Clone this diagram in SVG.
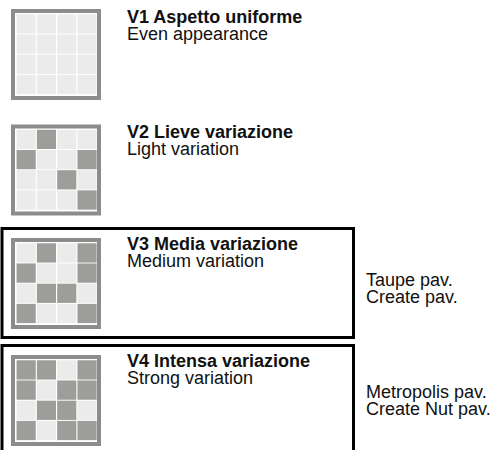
<svg xmlns="http://www.w3.org/2000/svg" xmlns:xlink="http://www.w3.org/1999/xlink" width="497" height="450" viewBox="0 0 497 450">
<style>
.t{font-family:"Liberation Sans",Arial,Helvetica,sans-serif;font-size:18px;fill:#111}
.b{font-weight:bold}
.box{fill:none;stroke:#000;stroke-width:3}
.lt{fill:#ebebeb}
.dk{fill:#9d9d99}
</style>
<defs>
<g id="base">
<rect x="0" y="0" width="90" height="91" fill="#8c8c8c"/>
<rect x="4" y="4" width="82" height="83" fill="#ffffff"/>
<g class="lt">
<rect x="5.6" y="5.3" width="19.1" height="19.2"/><rect x="25.9" y="5.3" width="19.1" height="19.2"/><rect x="46.2" y="5.3" width="19.1" height="19.2"/><rect x="66.5" y="5.3" width="19.1" height="19.2"/>
<rect x="5.6" y="25.5" width="19.1" height="19.2"/><rect x="25.9" y="25.5" width="19.1" height="19.2"/><rect x="46.2" y="25.5" width="19.1" height="19.2"/><rect x="66.5" y="25.5" width="19.1" height="19.2"/>
<rect x="5.6" y="45.7" width="19.1" height="19.2"/><rect x="25.9" y="45.7" width="19.1" height="19.2"/><rect x="46.2" y="45.7" width="19.1" height="19.2"/><rect x="66.5" y="45.7" width="19.1" height="19.2"/>
<rect x="5.6" y="65.9" width="19.1" height="19.2"/><rect x="25.9" y="65.9" width="19.1" height="19.2"/><rect x="46.2" y="65.9" width="19.1" height="19.2"/><rect x="66.5" y="65.9" width="19.1" height="19.2"/>
</g>
</g>
</defs>

<g id="v1">
<use xlink:href="#base" href="#base" x="11" y="9"/>
<text class="t b" x="127" y="23">V1 Aspetto uniforme</text>
<text class="t" x="127" y="39.5">Even appearance</text>
</g>

<g id="v2">
<use xlink:href="#base" href="#base" x="11" y="124.5"/>
<g class="dk" transform="translate(11,124.5)">
<rect x="25.9" y="5.3" width="19.1" height="19.2"/>
<rect x="5.6" y="25.5" width="19.1" height="19.2"/><rect x="66.5" y="25.5" width="19.1" height="19.2"/>
<rect x="46.2" y="45.7" width="19.1" height="19.2"/>
<rect x="66.5" y="65.9" width="19.1" height="19.2"/>
</g>
<text class="t b" x="127" y="138.3">V2 Lieve variazione</text>
<text class="t" x="127" y="154.8">Light variation</text>
</g>

<g id="v3">
<rect class="box" x="2" y="228.5" width="351.5" height="109"/>
<use xlink:href="#base" href="#base" x="11" y="238"/>
<g class="dk" transform="translate(11,238)">
<rect x="25.9" y="5.3" width="19.1" height="19.2"/><rect x="66.5" y="5.3" width="19.1" height="19.2"/>
<rect x="5.6" y="25.5" width="19.1" height="19.2"/><rect x="66.5" y="25.5" width="19.1" height="19.2"/>
<rect x="25.9" y="45.7" width="19.1" height="19.2"/><rect x="46.2" y="45.7" width="19.1" height="19.2"/>
<rect x="5.6" y="65.9" width="19.1" height="19.2"/><rect x="66.5" y="65.9" width="19.1" height="19.2"/>
</g>
<text class="t b" x="127" y="250">V3 Media variazione</text>
<text class="t" x="127" y="266.5">Medium variation</text>
<text class="t" x="366" y="286">Taupe pav.</text>
<text class="t" x="366" y="302.5">Create pav.</text>
</g>

<g id="v4">
<rect class="box" x="2" y="345.5" width="351.5" height="120"/>
<use xlink:href="#base" href="#base" x="11" y="355"/>
<g class="dk" transform="translate(11,355)">
<rect x="5.6" y="5.3" width="19.1" height="19.2"/><rect x="25.9" y="5.3" width="19.1" height="19.2"/><rect x="66.5" y="5.3" width="19.1" height="19.2"/>
<rect x="5.6" y="25.5" width="19.1" height="19.2"/><rect x="46.2" y="25.5" width="19.1" height="19.2"/><rect x="66.5" y="25.5" width="19.1" height="19.2"/>
<rect x="25.9" y="45.7" width="19.1" height="19.2"/><rect x="46.2" y="45.7" width="19.1" height="19.2"/>
<rect x="5.6" y="65.9" width="19.1" height="19.2"/><rect x="46.2" y="65.9" width="19.1" height="19.2"/><rect x="66.5" y="65.9" width="19.1" height="19.2"/>
</g>
<text class="t b" x="127" y="367">V4 Intensa variazione</text>
<text class="t" x="127" y="383.5">Strong variation</text>
<text class="t" x="366" y="398">Metropolis pav.</text>
<text class="t" x="366" y="414.5">Create Nut pav.</text>
</g>

<g id="connectors"></g>
</svg>
